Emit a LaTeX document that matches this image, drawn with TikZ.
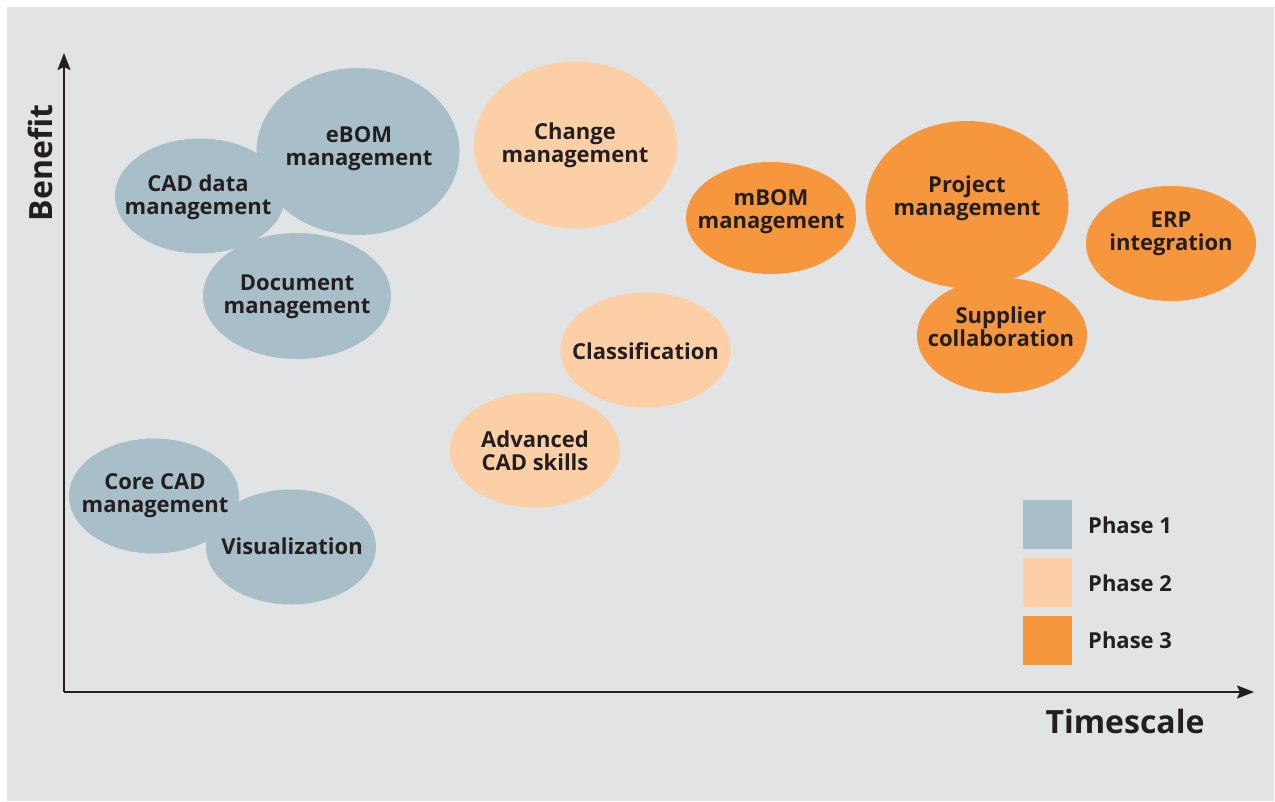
\documentclass[tikz,border=0pt]{standalone}
\usepackage{fontspec}
\setmainfont{Open Sans}
\usetikzlibrary{shapes.geometric,arrows.meta}
\definecolor{bgc}{HTML}{E1E3E4}
\definecolor{pone}{HTML}{A8BEC9}
\definecolor{ptwo}{HTML}{FDCFA6}
\definecolor{pthree}{HTML}{F7973D}
\definecolor{ink}{HTML}{231F20}
\begin{document}
\begin{tikzpicture}[x=1pt,y=-1pt,
  blob/.style={ellipse, draw=none, inner sep=0pt},
  small/.style={blob, minimum width=170pt, minimum height=115pt},
  big/.style={blob, minimum width=203pt, minimum height=167pt},
  lbl/.style={align=center, text=ink, font=\fontsize{22}{23}\selectfont\bfseries, inner sep=0pt},
  key/.style={minimum width=49pt, minimum height=49pt, inner sep=0pt, draw=none},
  keylbl/.style={anchor=base west, text=ink, font=\fontsize{22}{23}\selectfont\bfseries, inner sep=0pt},
  axis/.style={draw=ink, line width=2pt, -{Stealth[length=17pt,width=13pt,inset=3pt]}},
  axlbl/.style={text=ink, font=\fontsize{32}{34}\selectfont\bfseries, inner sep=0pt}]
\useasboundingbox (0,0) rectangle (1275,801);
\fill[bgc] (7,7) rectangle (1274,801);
% ellipses
\node[big, fill=pone] (ebom) at (358,151.5) {};
\node[small, fill=pone] (cad) at (200,196) {};
\node[blob, fill=pone, minimum width=188pt, minimum height=126pt] (doc) at (297,296) {};
\node[small, fill=pone] (core) at (154,496) {};
\node[small, fill=pone] (vis) at (291,547) {};
\node[big, fill=ptwo] (chg) at (575.5,145) {};
\node[small, fill=ptwo] (cls) at (645.5,350) {};
\node[small, fill=ptwo] (adv) at (535,450) {};
\node[small, fill=pthree, minimum height=112pt] (mbom) at (771,218) {};
\node[big, fill=pthree] (proj) at (967,204.5) {};
\node[small, fill=pthree] (sup) at (1002,335.5) {};
\node[small, fill=pthree] (erp) at (1171,243.5) {};
% labels
\node[lbl] (ebomL) at (359,149) {eBOM\\management};
\node[lbl] (cadL) at (198,197) {CAD data\\management};
\node[lbl] (docL) at (297,297) {Document\\management};
\node[lbl] (coreL) at (155,496) {Core CAD\\management};
\node[lbl] (visL) at (292,546) {Visualization};
\node[lbl] (chgL) at (575,145) {Change\\management};
\node[lbl] (clsL) at (645.5,351) {Classification};
\node[lbl] (advL) at (535,451) {Advanced\\CAD skills};
\node[lbl] (mbomL) at (771,212) {mBOM\\management};
\node[lbl] (projL) at (967,198) {Project\\management};
\node[lbl] (supL) at (1001,327) {Supplier\\collaboration};
\node[lbl] (erpL) at (1171,234) {ERP\\integration};
% axes
\coordinate (origin) at (64,692);
\coordinate (xend) at (1254,692);
\coordinate (yend) at (64,53);
\draw[axis] (origin) -- (xend);
\draw[axis] (origin) -- (yend);
\node[axlbl] (xl) at (1125,721) {Timescale};
\node[axlbl, rotate=90] (yl) at (40,163) {Benefit};
% legend
\node[key, fill=pone] (k1) at (1047.5,524.5) {};
\node[key, fill=ptwo] (k2) at (1047.5,582.5) {};
\node[key, fill=pthree] (k3) at (1047.5,640.5) {};
\node[keylbl] (k1L) at (1088,533) {Phase 1};
\node[keylbl] (k2L) at (1088,591) {Phase 2};
\node[keylbl] (k3L) at (1088,648) {Phase 3};
\end{tikzpicture}
\end{document}
